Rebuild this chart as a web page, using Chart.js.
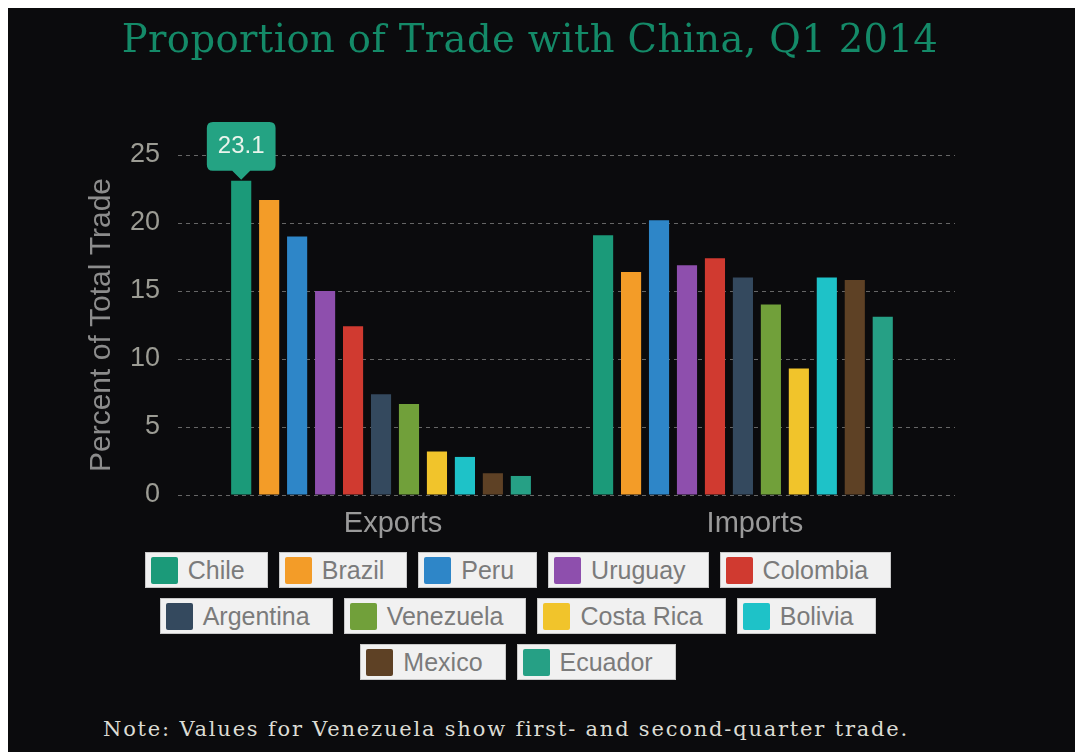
<!DOCTYPE html>
<html>
<head>
<meta charset="utf-8">
<script src="https://cdn.jsdelivr.net/npm/chart.js@4.4.1/dist/chart.umd.min.js"></script>
<style>
  body { margin: 0; background: #fff; width: 1075px; height: 752px; overflow: hidden; position: relative; }
  #frame { position: absolute; left: 8px; top: 8px; width: 1067px; height: 744px; background: #0b0b0d; }
  #wrap { position: absolute; left: 0; top: 0; width: 1075px; height: 545px; }
  #title { position: absolute; left: 0; top: 16px; width: 1060px; text-align: center; line-height: 46px;
    font-family: "DejaVu Serif", serif; font-size: 38.5px; letter-spacing: 0.4px; color: #148a68; }
  #legend { position: absolute; left: 138px; top: 552px; width: 760px; display: flex; flex-wrap: wrap;
    justify-content: center; column-gap: 11px; row-gap: 10px; }
  .item { display: flex; align-items: center; height: 36px; box-sizing: border-box; background: #f1f1f1;
    border: 1px solid #c8c8c8; padding: 0 22px 0 5px; font-family: "Liberation Sans", Arial, sans-serif;
    font-size: 25px; color: #7b7b7b; }
  .sw { width: 27px; height: 27px; border-radius: 2px; margin-right: 10px; }
  #note { position: absolute; left: 103px; top: 717px; font-family: "DejaVu Serif", serif; font-size: 21px;
    letter-spacing: 1.8px; color: #dcdcd4; }
</style>
</head>
<body>
<div id="frame"></div>
<div id="wrap"><canvas id="myChart"></canvas></div>
<div id="title">Proportion of Trade with China, Q1 2014</div>
<div id="legend"></div>
<div id="note">Note: Values for Venezuela show first- and second-quarter trade.</div>
<script>
const categories = ['Exports', 'Imports'];
const countries = ['Chile', 'Brazil', 'Peru', 'Uruguay', 'Colombia', 'Argentina', 'Venezuela', 'Costa Rica', 'Bolivia', 'Mexico', 'Ecuador'];
const exportsPct = [23.1, 21.7, 19.0, 15.0, 12.4, 7.4, 6.7, 3.2, 2.8, 1.6, 1.4];
const importsPct = [19.1, 16.4, 20.2, 16.9, 17.4, 16.0, 14.0, 9.3, 16.0, 15.8, 13.1];
const colors = ['#1b9a79', '#f39c28', '#2e86c8', '#8e4fad', '#d03a30', '#34495e', '#71a03a', '#f1c42b', '#1ec2c8', '#5e4125', '#26a085'];
const yTicks = [0, 5, 10, 15, 20, 25];

const ctx = document.getElementById('myChart');

const chart = new Chart(ctx, {
  type: 'bar',
  data: {
    datasets: countries.map((c, i) => ({
      label: c,
      data: [{ x: 0, y: exportsPct[i] }, { x: 1, y: importsPct[i] }],
      backgroundColor: colors[i],
      categoryPercentage: 0.85,
      barPercentage: 0.72
    }))
  },
  options: {
    responsive: true,
    maintainAspectRatio: false,
    animation: false,
    events: [],
    layout: { padding: { top: 155, right: 120, left: 0, bottom: 0 } },
    plugins: {
      legend: { display: false },
      tooltip: {
        enabled: true,
        backgroundColor: '#24a383',
        bodyColor: '#eaf4ec',
        bodyFont: { family: 'Liberation Sans', size: 24 },
        displayColors: false,
        padding: { x: 11, y: 10 },
        cornerRadius: 6,
        caretSize: 9,
        caretPadding: 1,
        yAlign: 'bottom',
        xAlign: 'center',
        callbacks: {
          title: () => '',
          label: (item) => item.parsed.y.toFixed(1)
        }
      }
    },
    scales: {
      x: {
        type: 'linear',
        offset: false,
        min: -0.561,
        max: 1.586,
        afterBuildTicks: (s) => { s.ticks = categories.map((c, k) => ({ value: k })); },
        grid: { display: false },
        border: { display: false },
        ticks: {
          color: '#9a9a9a',
          font: { family: 'Liberation Sans', size: 29 },
          padding: 4,
          labelOffset: 12,
          callback: (v) => categories[v]
        },
        afterFit: (s) => { s.height = 50; }
      },
      y: {
        min: 0,
        max: 25,
        afterBuildTicks: (s) => { s.ticks = yTicks.map(v => ({ value: v })); },
        grid: { color: '#666666', drawTicks: false },
        border: { display: false, dash: [4, 4] },
        ticks: { color: '#9c9c94', font: { family: 'Liberation Sans', size: 27 }, padding: 18 },
        title: {
          display: true,
          text: 'Percent of Total Trade',
          color: '#8c8c8c',
          font: { family: 'Liberation Sans', size: 30 },
          padding: { top: 84, bottom: 0 }
        },
        afterFit: (s) => { s.width = 178; }
      }
    }
  }
});

// value bubble on Chile exports
chart.tooltip.setActiveElements([{ datasetIndex: 0, index: 0 }], { x: 0, y: 0 });
chart.update();

const legend = document.getElementById('legend');
countries.forEach((c, i) => {
  const it = document.createElement('div');
  it.className = 'item';
  it.innerHTML = '<span class="sw" style="background:' + colors[i] + '"></span>' + c;
  legend.appendChild(it);
});
</script>
</body>
</html>
